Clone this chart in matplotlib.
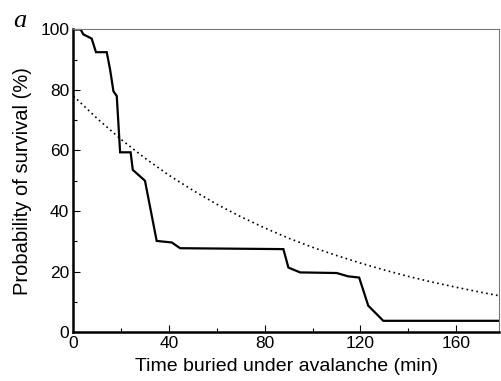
import numpy as np
import matplotlib
matplotlib.use("Agg")
import matplotlib.pyplot as plt
from matplotlib.ticker import MultipleLocator

obs_t = [0, 3.0, 4.1, 7.6, 9.4, 13.9, 15.3, 16.7, 18.1, 19.5, 23.9, 24.8, 29.9,
         34.8, 41.1, 44.6, 87.8, 89.9, 94.8, 110.1, 114.9, 119.5, 123.3, 129.6, 178]
obs_p = [100, 100, 98.4, 97, 92.5, 92.5, 86.8, 79.6, 78, 59.4, 59.4, 53.6, 50,
         30.1, 29.6, 27.7, 27.4, 21.3, 19.7, 19.5, 18.4, 18, 8.7, 3.7, 3.7]

# dotted curve
fit_t = [0, 10, 20, 30, 40, 50, 60, 70, 80, 90, 100, 110, 120, 130, 140, 150, 160, 170, 178]
fit_p = [78, 70.5, 63.6, 57.4, 51.8, 46.8, 42.2, 38.1, 34.4, 31.0, 28.0, 25.3, 22.8,
         20.5, 18.4, 16.5, 14.8, 13.2, 12.0]

plt.rcParams['font.family'] = ['Liberation Sans', 'DejaVu Sans']

fig = plt.figure(figsize=(5.01, 3.81), dpi=100)
ax = fig.add_axes([0.1467, 0.1286, 0.8493, 0.794])

ax.plot(obs_t, obs_p, color='black', linewidth=1.6, solid_joinstyle='miter')
ax.plot(fit_t, fit_p, color='black', linestyle=(0, (1, 2)), linewidth=1.2)

ax.set_xlim(0, 178)
ax.set_ylim(0, 100)
ax.xaxis.set_major_locator(MultipleLocator(40))
ax.xaxis.set_minor_locator(MultipleLocator(20))
ax.yaxis.set_major_locator(MultipleLocator(20))
ax.yaxis.set_minor_locator(MultipleLocator(10))
ax.tick_params(which='both', direction='in', labelsize=12.5, width=0.8)
ax.tick_params(which='major', length=5, pad=3)
ax.tick_params(which='minor', length=3)

ax.spines['left'].set_linewidth(1.8)
ax.spines['bottom'].set_linewidth(1.8)
ax.spines['top'].set_linewidth(0.8)
ax.spines['top'].set_color('#777777')
ax.spines['right'].set_linewidth(0.8)
ax.spines['right'].set_color('#777777')

ax.set_xlabel("Time buried under avalanche (min)", fontsize=14, labelpad=5)
ax.set_ylabel("Probability of survival (%)", fontsize=14.5, labelpad=6)

fig.text(0.026, 0.93, "a", fontsize=19, family='Liberation Serif', style='italic')

fig.savefig("out.png", dpi=100)
